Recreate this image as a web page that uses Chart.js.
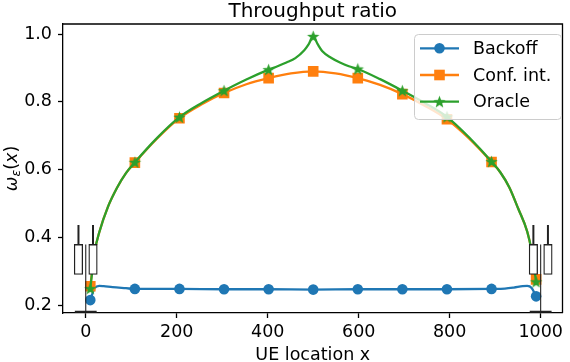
<!DOCTYPE html>
<html>
<head>
<meta charset="utf-8">
<script src="https://cdn.jsdelivr.net/npm/chart.js@4.4.1/dist/chart.umd.min.js"></script>
<style>
  html, body { margin: 0; padding: 0; background: #fff; }
</style>
</head>
<body>
<canvas id="chart" width="570" height="362"></canvas>
<script>
const titleText = 'Throughput ratio';
const xLabel = 'UE location x';
const seriesNames = ['Backoff', 'Conf. int.', 'Oracle'];
const xTicks = [0, 200, 400, 600, 800, 1000];
const yTicks = [0.2, 0.4, 0.6, 0.8, 1.0];
const markerX = [10, 108, 206, 304, 402, 500, 598, 696, 794, 892, 990];

const backoffX = [10, 19.8, 29.6, 39.4, 59, 88.4, 108, 206, 304, 402, 500, 598, 696, 794, 892, 921.4, 941, 960.6, 970.4, 980.2, 990];
const backoffY = [0.216, 0.252, 0.258, 0.257, 0.254, 0.251, 0.249, 0.249, 0.248, 0.248, 0.247, 0.248, 0.248, 0.248, 0.249, 0.250, 0.253, 0.257, 0.258, 0.252, 0.227];

const confX = [10, 19.8, 29.6, 49.2, 68.8, 88.4, 108, 157, 206, 255, 304, 353, 402, 451, 500, 549, 598, 647, 696, 745, 794, 843, 892, 911.6, 931.2, 950.8, 970.4, 980.2, 990];
const confY = [0.257, 0.36, 0.415, 0.492, 0.547, 0.590, 0.621, 0.692, 0.752, 0.793, 0.826, 0.852, 0.870, 0.884, 0.890, 0.884, 0.870, 0.850, 0.823, 0.789, 0.749, 0.692, 0.623, 0.592, 0.548, 0.485, 0.418, 0.36, 0.277];

const oracleX = [10, 19.8, 29.6, 49.2, 68.8, 88.4, 108, 157, 206, 255, 304, 353, 402, 421.6, 441.2, 460.8, 480.4, 490.2, 500, 509.8, 519.6, 539.2, 558.8, 578.4, 598, 647, 696, 745, 794, 843, 892, 911.6, 931.2, 950.8, 970.4, 980.2, 990];
const oracleY = [0.250, 0.36, 0.415, 0.492, 0.547, 0.590, 0.622, 0.694, 0.755, 0.797, 0.833, 0.866, 0.895, 0.905, 0.916, 0.929, 0.952, 0.970, 0.993, 0.970, 0.950, 0.930, 0.916, 0.905, 0.897, 0.867, 0.833, 0.797, 0.756, 0.695, 0.624, 0.592, 0.548, 0.485, 0.418, 0.36, 0.270];

// the little box plots at both ends
const boxX = [-16, 16, 984, 1016];
const boxLow = [0.2915, 0.2915, 0.2915, 0.2915];
const boxHigh = [0.380, 0.380, 0.380, 0.380];
const whiskerHigh = [0.437, 0.437, 0.437, 0.437];
const edgeX = [0, 1000];
const edgeTop = 0.380;
const edgeBottom = 0.172;
const capY = 0.182;
const capHalf = 24;

const colors = ['#1f77b4', '#ff7f0e', '#2ca02c'];
const FONT = '"DejaVu Sans", sans-serif';

function starImage(color, r) {
  const c = document.createElement('canvas');
  const s = Math.ceil(r * 2 + 2);
  c.width = s; c.height = s;
  const g = c.getContext('2d');
  g.translate(s / 2, s / 2 + 0.5);
  g.beginPath();
  for (let i = 0; i < 10; i++) {
    const rad = i % 2 ? r * 0.42 : r;
    const a = -Math.PI / 2 + i * Math.PI / 5;
    g.lineTo(rad * Math.cos(a), rad * Math.sin(a));
  }
  g.closePath();
  g.fillStyle = color;
  g.fill();
  return c;
}
const star = starImage(colors[2], 6.5);

const pts = (xs, ys) => xs.map((x, i) => ({ x, y: ys[i] }));
const markR = r => ctx => (ctx.raw && markerX.includes(ctx.raw.x)) ? r : 0;

function segs(list) {
  const out = [];
  list.forEach(s => { out.push(s[0], s[1], { x: s[1].x, y: null }); });
  return out;
}

const whiskers = segs(boxX.map((x, i) => [{ x, y: boxHigh[i] }, { x, y: whiskerHigh[i] }]));
const edges = segs(edgeX.map(x => [{ x, y: edgeTop }, { x, y: edgeBottom }]));
const caps = segs(edgeX.map(x => [{ x: x - capHalf, y: capY }, { x: x + capHalf, y: capY }]));

const lineBase = {
  type: 'line',
  borderWidth: 2.3,
  cubicInterpolationMode: 'monotone',
  pointBorderWidth: 0,
  fill: false
};

const decor = {
  id: 'decor',
  afterDraw(chart) {
    const { ctx, chartArea: a } = chart;
    ctx.save();
    // top / right spines
    ctx.strokeStyle = '#000';
    ctx.lineWidth = 1.3;
    ctx.beginPath();
    ctx.moveTo(a.left, a.top);
    ctx.lineTo(a.right, a.top);
    ctx.lineTo(a.right, a.bottom);
    ctx.stroke();

    ctx.fillStyle = '#000';
    ctx.textAlign = 'center';
    ctx.textBaseline = 'alphabetic';
    ctx.font = '20px ' + FONT;
    ctx.fillText(titleText, (a.left + a.right) / 2, 17);
    ctx.font = '17.5px ' + FONT;
    ctx.fillText(xLabel, (a.left + a.right) / 2, 360);

    // y label: omega_eps(x)
    ctx.save();
    ctx.translate(16.5, (a.top + a.bottom) / 2);
    ctx.rotate(-Math.PI / 2);
    ctx.textAlign = 'left';
    const parts = [
      { t: 'ω', f: 'italic 17.5px ' + FONT, dy: 0 },
      { t: 'ε', f: 'italic 12.5px ' + FONT, dy: 3.5 },
      { t: '(', f: '17.5px ' + FONT, dy: 0 },
      { t: 'x', f: 'italic 17.5px ' + FONT, dy: 0 },
      { t: ')', f: '17.5px ' + FONT, dy: 0 }
    ];
    let w = 0;
    parts.forEach(p => { ctx.font = p.f; p.w = ctx.measureText(p.t).width; w += p.w; });
    let x = -w / 2;
    parts.forEach(p => { ctx.font = p.f; ctx.fillText(p.t, x, p.dy); x += p.w; });
    ctx.restore();

    // legend
    const L = 414, T = 34, W = 147, H = 85;
    ctx.beginPath();
    ctx.roundRect(L + 0.5, T + 0.5, W, H, 4);
    ctx.fillStyle = 'rgba(255,255,255,0.8)';
    ctx.fill();
    ctx.strokeStyle = '#cccccc';
    ctx.lineWidth = 1;
    ctx.stroke();
    const rows = [48.3, 75, 101.7];
    rows.forEach((y, i) => {
      ctx.strokeStyle = colors[i];
      ctx.lineWidth = 2.3;
      ctx.beginPath();
      ctx.moveTo(420, y);
      ctx.lineTo(459, y);
      ctx.stroke();
      ctx.fillStyle = colors[i];
      if (i === 0) {
        ctx.beginPath(); ctx.arc(439.5, y, 5.3, 0, Math.PI * 2); ctx.fill();
      } else if (i === 1) {
        ctx.fillRect(439.5 - 5.3, y - 5.3, 10.6, 10.6);
      } else {
        ctx.drawImage(star, 439.5 - star.width / 2, y - star.height / 2);
      }
      ctx.fillStyle = '#000';
      ctx.font = '17.5px ' + FONT;
      ctx.textAlign = 'left';
      ctx.textBaseline = 'middle';
      ctx.fillText(seriesNames[i], 473, y + 1);
    });
    ctx.restore();
  }
};

new Chart(document.getElementById('chart'), {
  type: 'line',
  data: {
    datasets: [
      { ...lineBase, label: seriesNames[0], data: pts(backoffX, backoffY), borderColor: colors[0], backgroundColor: colors[0],
        pointStyle: 'circle', pointRadius: markR(5.3), order: 3 },
      { ...lineBase, label: seriesNames[1], data: pts(confX, confY), borderColor: colors[1], backgroundColor: colors[1],
        pointStyle: 'rect', pointRadius: markR(7.5), order: 2 },
      { ...lineBase, label: seriesNames[2], data: pts(oracleX, oracleY), borderColor: colors[2], backgroundColor: colors[2],
        pointStyle: star, pointRadius: markR(6), order: 1 },
      { type: 'bar', label: 'box', data: boxX.map((x, i) => ({ x, y: [boxLow[i], boxHigh[i]] })),
        backgroundColor: '#fff', borderColor: '#222', borderWidth: 1.3, borderSkipped: false,
        barThickness: 8.5, order: 0 },
      { type: 'line', label: 'whisker', data: whiskers, borderColor: '#222', borderWidth: 2, pointRadius: 0, spanGaps: false, order: 0 },
      { type: 'line', label: 'edge', data: edges, borderColor: '#222', borderWidth: 1.1, pointRadius: 0, spanGaps: false, order: 0 },
      { type: 'line', label: 'cap', data: caps, borderColor: '#222', borderWidth: 2, pointRadius: 0, spanGaps: false, order: 0 }
    ]
  },
  options: {
    responsive: false,
    animation: false,
    devicePixelRatio: 1,
    events: [],
    layout: { padding: { left: 0, right: 1, top: 24, bottom: 0 } },
    plugins: { legend: { display: false }, title: { display: false }, tooltip: { enabled: false } },
    scales: {
      x: {
        type: 'linear', min: -50, max: 1048, offset: false,
        grid: { drawOnChartArea: false, drawTicks: true, tickLength: 5, tickColor: '#000', tickWidth: 1.3, offset: false },
        border: { display: true, color: '#000', width: 1.3 },
        ticks: { color: '#000', padding: 4, font: { family: FONT, size: 17.5 }, maxRotation: 0, callback: v => String(v) },
        afterBuildTicks: s => { s.ticks = xTicks.map(v => ({ value: v })); },
        afterFit: s => { s.height = 49; }
      },
      y: {
        type: 'linear', min: 0.178, max: 1.0295,
        grid: { drawOnChartArea: false, drawTicks: true, tickLength: 5, tickColor: '#000', tickWidth: 1.3 },
        border: { display: true, color: '#000', width: 1.3 },
        ticks: { color: '#000', padding: 6, font: { family: FONT, size: 17.5 }, callback: v => v.toFixed(1) },
        afterBuildTicks: s => { s.ticks = yTicks.map(v => ({ value: v })); },
        afterFit: s => { s.width = 63; }
      }
    }
  },
  plugins: [decor]
});
</script>
</body>
</html>
